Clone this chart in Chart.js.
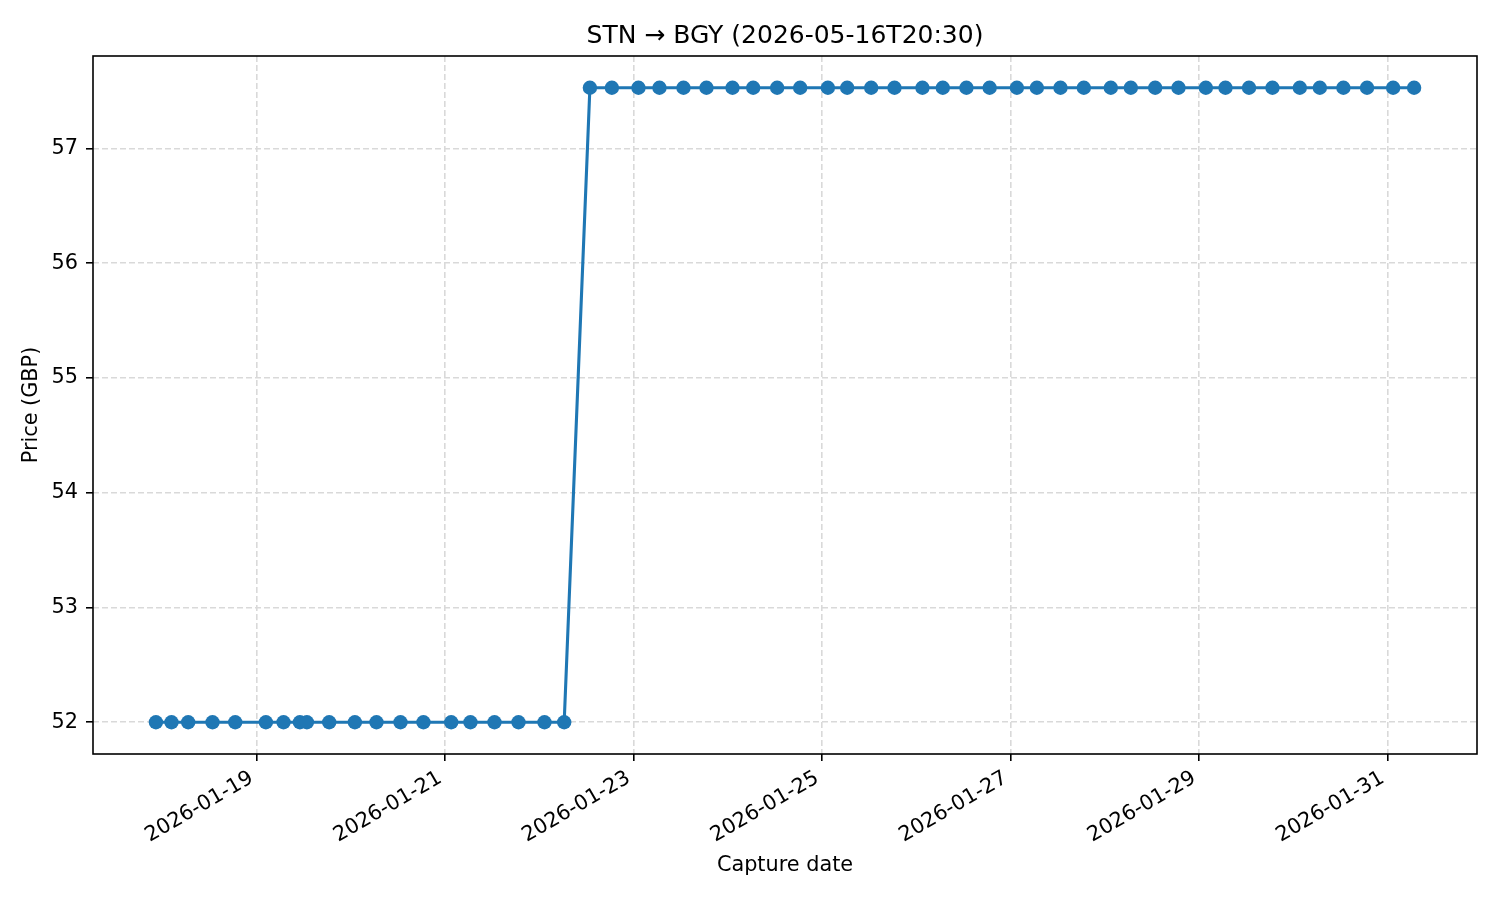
<!DOCTYPE html>
<html>
<head>
<meta charset="utf-8">
<script src="https://cdn.jsdelivr.net/npm/chart.js@4/dist/chart.umd.min.js"></script>
<style>
  html, body { margin: 0; padding: 0; background: #ffffff; }
  #wrap { width: 1500px; height: 900px; }
</style>
</head>
<body>
<div id="wrap"><canvas id="c" width="1500" height="900"></canvas></div>
<script>
const chartTitle = 'STN → BGY (2026-05-16T20:30)';
const xAxisTitle = 'Capture date';
const yAxisTitle = 'Price (GBP)';

const captureTimes = [
  '2026-01-17T22:20','2026-01-18T02:18','2026-01-18T06:33','2026-01-18T12:45','2026-01-18T18:32',
  '2026-01-19T02:20','2026-01-19T06:50','2026-01-19T11:00','2026-01-19T12:47','2026-01-19T18:28',
  '2026-01-20T01:00','2026-01-20T06:30','2026-01-20T12:37','2026-01-20T18:28',
  '2026-01-21T01:32','2026-01-21T06:26','2026-01-21T12:33','2026-01-21T18:40',
  '2026-01-22T01:17','2026-01-22T06:18','2026-01-22T12:51','2026-01-22T18:27',
  '2026-01-23T01:13','2026-01-23T06:34','2026-01-23T12:41','2026-01-23T18:32',
  '2026-01-24T01:10','2026-01-24T06:26','2026-01-24T12:32','2026-01-24T18:24',
  '2026-01-25T01:27','2026-01-25T06:22','2026-01-25T12:29','2026-01-25T18:25',
  '2026-01-26T01:32','2026-01-26T06:43','2026-01-26T12:44','2026-01-26T18:39',
  '2026-01-27T01:35','2026-01-27T06:40','2026-01-27T12:41','2026-01-27T18:38',
  '2026-01-28T01:30','2026-01-28T06:36','2026-01-28T12:48','2026-01-28T18:44',
  '2026-01-29T01:42','2026-01-29T06:42','2026-01-29T12:42','2026-01-29T18:40',
  '2026-01-30T01:38','2026-01-30T06:44','2026-01-30T12:44','2026-01-30T18:45',
  '2026-01-31T01:24','2026-01-31T06:44'
];
const prices = [
  52.00,52.00,52.00,52.00,52.00,
  52.00,52.00,52.00,52.00,52.00,
  52.00,52.00,52.00,52.00,
  52.00,52.00,52.00,52.00,
  52.00,52.00,57.53,57.53,
  57.53,57.53,57.53,57.53,
  57.53,57.53,57.53,57.53,
  57.53,57.53,57.53,57.53,
  57.53,57.53,57.53,57.53,
  57.53,57.53,57.53,57.53,
  57.53,57.53,57.53,57.53,
  57.53,57.53,57.53,57.53,
  57.53,57.53,57.53,57.53,
  57.53,57.53
];
const xTickLabels = ['2026-01-19','2026-01-21','2026-01-23','2026-01-25','2026-01-27','2026-01-29','2026-01-31'];
const yTickValues = [52, 53, 54, 55, 56, 57];

const toMs = s => Date.parse(s + (s.length > 10 ? ':00Z' : 'T00:00:00Z'));
const xs = captureTimes.map(toMs);
const points = xs.map((x, i) => ({ x: x, y: prices[i] }));
const xTickValues = xTickLabels.map(toMs);
const labelByValue = {};
xTickValues.forEach((v, i) => { labelByValue[v] = xTickLabels[i]; });

// matplotlib-like 5% auto margins
const xMinD = Math.min(...xs), xMaxD = Math.max(...xs);
const yMinD = Math.min(...prices), yMaxD = Math.max(...prices);
const xPad = (xMaxD - xMinD) * 0.05, yPad = (yMaxD - yMinD) * 0.05;

const FONT = 'DejaVu Sans';
const GRID = '#d9d9d9';

const frame = {
  id: 'frame',
  afterDraw(chart) {
    const a = chart.chartArea, ctx = chart.ctx;
    ctx.save();
    ctx.strokeStyle = '#000000';
    ctx.lineWidth = 1.6;
    ctx.strokeRect(a.left, a.top, a.right - a.left, a.bottom - a.top);
    ctx.restore();
  }
};

new Chart(document.getElementById('c'), {
  type: 'line',
  data: {
    datasets: [{
      data: points,
      borderColor: '#1f77b4',
      backgroundColor: '#1f77b4',
      borderWidth: 3.1,
      pointRadius: 7.2,
      pointBorderWidth: 0,
      pointBackgroundColor: '#1f77b4',
      tension: 0,
      fill: false
    }]
  },
  options: {
    responsive: false,
    animation: false,
    events: [],
    layout: { padding: { left: 0, right: 23, top: 0, bottom: 0 } },
    plugins: {
      legend: { display: false },
      tooltip: { enabled: false },
      title: {
        display: true,
        fullSize: false,
        text: chartTitle,
        color: '#000000',
        font: { family: FONT, size: 25, weight: 'normal', lineHeight: 1.2 },
        padding: { top: 21, bottom: 5 }
      }
    },
    scales: {
      x: {
        type: 'linear',
        min: xMinD - xPad,
        max: xMaxD + xPad,
        afterBuildTicks(scale) { scale.ticks = xTickValues.map(v => ({ value: v })); },
        afterFit(scale) { scale.height = 146; scale.paddingLeft = 0; scale.paddingRight = 0; },
        ticks: {
          autoSkip: false,
          minRotation: 30,
          maxRotation: 30,
          padding: 5,
          labelOffset: -5,
          color: '#000000',
          font: { family: FONT, size: 20.8 },
          callback: v => labelByValue[v] || ''
        },
        grid: {
          color: GRID,
          lineWidth: 1.6,
          drawTicks: true,
          tickLength: 7,
          tickColor: '#000000',
          tickWidth: 1.6,
          tickBorderDash: []
        },
        border: { display: false, dash: [6, 3] },
        title: {
          display: true,
          text: xAxisTitle,
          color: '#000000',
          font: { family: FONT, size: 20.8, lineHeight: 1.2 },
          padding: { top: 0, bottom: 22 }
        }
      },
      y: {
        type: 'linear',
        min: yMinD - yPad,
        max: yMaxD + yPad,
        afterBuildTicks(scale) { scale.ticks = yTickValues.map(v => ({ value: v })); },
        afterFit(scale) { scale.width = 93; },
        ticks: {
          padding: 8,
          color: '#000000',
          font: { family: FONT, size: 20.8 },
          callback: v => String(v)
        },
        grid: {
          color: GRID,
          lineWidth: 1.6,
          drawTicks: true,
          tickLength: 7,
          tickColor: '#000000',
          tickWidth: 1.6,
          tickBorderDash: []
        },
        border: { display: false, dash: [6, 3] },
        title: {
          display: true,
          text: yAxisTitle,
          color: '#000000',
          font: { family: FONT, size: 20.8, lineHeight: 1.2 },
          padding: { top: 19, bottom: 0 }
        }
      }
    }
  },
  plugins: [frame]
});
</script>
</body>
</html>
